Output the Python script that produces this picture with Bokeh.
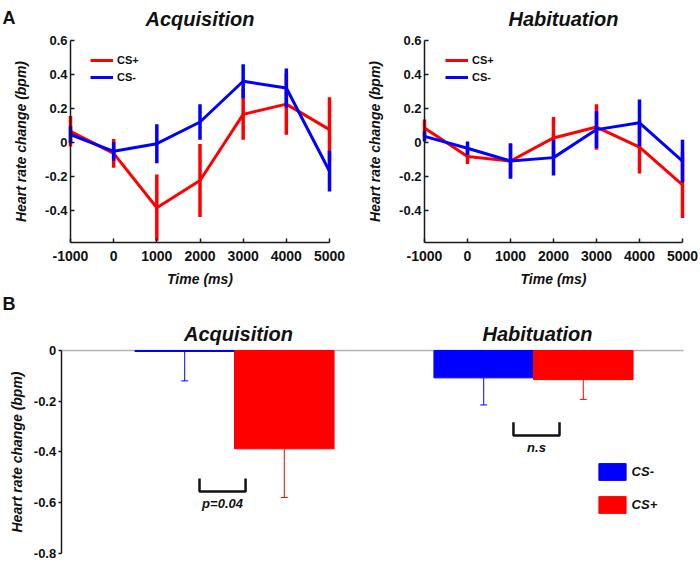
from bokeh.plotting import figure
from bokeh.layouts import column, row
from bokeh.models import (Range1d, FixedTicker, Legend, LegendItem,
                          Whisker, ColumnDataSource, TeeHead)
from bokeh.core.properties import value
from bokeh.embed import file_html
from bokeh.resources import INLINE

# ---------------- data ----------------
time_ms = [-1000, 0, 1000, 2000, 3000, 4000, 5000]
time_labels = ["-1000", "0", "1000", "2000", "3000", "4000", "5000"]

acq_cs_plus = [0.065, -0.065, -0.385, -0.225, 0.165, 0.225, 0.075]
acq_cs_plus_err = [0.09, 0.085, 0.195, 0.215, 0.15, 0.18, 0.19]
acq_cs_minus = [0.045, -0.053, -0.008, 0.12, 0.36, 0.32, -0.17]
acq_cs_minus_err = [0.05, 0.055, 0.115, 0.105, 0.1, 0.115, 0.12]

hab_cs_plus = [0.085, -0.083, -0.11, 0.026, 0.09, -0.028, -0.25]
hab_cs_plus_err = [0.05, 0.045, 0.1, 0.123, 0.134, 0.155, 0.195]
hab_cs_minus = [0.035, -0.035, -0.11, -0.09, 0.075, 0.115, -0.11]
hab_cs_minus_err = [0.03, 0.04, 0.105, 0.105, 0.109, 0.138, 0.125]

line_y_ticks = [-0.4, -0.2, 0, 0.2, 0.4, 0.6]
line_y_labels = ["-0.4", "-0.2", "0", "0.2", "0.4", "0.6"]
line_y_limits = (-0.59, 0.6)
time_limits = (-1000, 5000)

bar_y_ticks = [-0.8, -0.6, -0.4, -0.2, 0]
bar_y_labels = ["-0.8", "-0.6", "-0.4", "-0.2", "0"]
bar_y_limits = (-0.8, 0)

phases = ["Acquisition", "Habituation"]
phase_pos = [1, 2]
bar_cs_minus = [-0.004, -0.108]
bar_cs_minus_err = [0.116, 0.107]
bar_cs_plus = [-0.388, -0.115]
bar_cs_plus_err = [0.192, 0.078]

sig_labels = ["p=0.04", "n.s"]
sig_left = [0.883, 1.933]
sig_right = [1.037, 2.087]
sig_top = [-0.505, -0.283]
sig_bottom = [-0.5565, -0.335]
sig_text_y = [-0.604, -0.382]

# ---------------- style ----------------
FONT = "Liberation Sans"
RED = "#ff0000"
BLUE = "#0000ff"
AX = "#1a1a1a"
TXT = "#111111"


def axis_map(v_a, px_a, v_b, px_b):
    per = (v_b - v_a) / (px_b - px_a)
    return lambda px: v_a + (px - px_a) * per


def style_axis(ax, size):
    ax.axis_line_color = AX
    ax.axis_line_width = 1.5
    ax.major_tick_line_color = AX
    ax.major_tick_line_width = 1.5
    ax.minor_tick_line_color = None
    ax.major_label_text_font = FONT
    ax.major_label_text_font_style = "bold"
    ax.major_label_text_font_size = size
    ax.major_label_text_color = TXT
    ax.axis_label_text_font = FONT
    ax.axis_label_text_font_style = "bold italic"
    ax.axis_label_text_font_size = "14px"
    ax.axis_label_text_color = TXT


def add_text(p, x, y, text, size, style, align="center", baseline="alphabetic"):
    p.text(x=x, y=y, text=text, text_font=value(FONT), text_font_style=style,
           text_font_size=size, text_align=align, text_baseline=baseline,
           text_color=TXT)


def line_panel(name, plus, plus_err, minus, minus_err, fx, fy, title_px, letter,
               legend_x):
    p = figure(width=350, height=288, output_backend="svg", toolbar_location=None,
               x_range=Range1d(fx(0), fx(350)), y_range=Range1d(fy(288), fy(0)),
               min_border=0)
    p.outline_line_color = None
    p.grid.visible = False
    p.background_fill_color = None
    p.border_fill_color = None

    renderers = []
    for vals, errs, col in [(plus, plus_err, RED), (minus, minus_err, BLUE)]:
        src = ColumnDataSource(dict(
            x=time_ms, y=vals,
            lo=[v - e for v, e in zip(vals, errs)],
            hi=[v + e for v, e in zip(vals, errs)]))
        p.segment(x0="x", y0="lo", x1="x", y1="hi", source=src,
                  line_color=col, line_width=3.5)
        r = p.line("x", "y", source=src, line_color=col, line_width=3)
        renderers.append(r)

    legend = Legend(items=[LegendItem(label="CS+", renderers=[renderers[0]]),
                           LegendItem(label="CS-", renderers=[renderers[1]])],
                    location=(legend_x, 204), padding=0, margin=0, spacing=3,
                    glyph_width=23, glyph_height=14, label_height=14, label_width=10,
                    label_standoff=4, border_line_alpha=0, background_fill_alpha=0,
                    label_text_font=FONT, label_text_font_style="bold",
                    label_text_font_size="11px", label_text_color=TXT)
    p.add_layout(legend)

    xa, ya = p.xaxis[0], p.yaxis[0]
    style_axis(xa, "14px")
    style_axis(ya, "13px")
    xa.fixed_location = line_y_limits[0]
    xa.bounds = time_limits
    ya.fixed_location = time_limits[0]
    ya.bounds = line_y_limits
    xa.ticker = FixedTicker(ticks=time_ms)
    xa.major_label_overrides = {t: l for t, l in zip(time_ms, time_labels)}
    ya.ticker = FixedTicker(ticks=line_y_ticks)
    ya.major_label_overrides = {t: l for t, l in zip(line_y_ticks, line_y_labels)}
    for ax in (xa, ya):
        ax.major_tick_in = 4
        ax.major_tick_out = 0
    xa.major_label_standoff = 8
    ya.major_label_standoff = 3
    xa.axis_label = "Time (ms)"
    xa.axis_label_standoff = 7
    ya.axis_label = "Heart rate change (bpm)"
    ya.axis_label_standoff = 13

    add_text(p, [fx(title_px)], [fy(18)], [name], "20px", "bold italic")
    if letter:
        add_text(p, [fx(2)], [fy(17)], [letter], "18px", "bold", align="left")
    return p


fx1 = axis_map(time_limits[0], 70, time_limits[1], 329)
fx2 = axis_map(time_limits[0], 74, time_limits[1], 332)
fy12 = axis_map(line_y_limits[1], 40, line_y_limits[0], 242)

p1 = line_panel(phases[0], acq_cs_plus, acq_cs_plus_err, acq_cs_minus,
                acq_cs_minus_err, fx1, fy12, 199.5, "A", 90)
p2 = line_panel(phases[1], hab_cs_plus, hab_cs_plus_err, hab_cs_minus,
                hab_cs_minus_err, fx2, fy12, 213, None, 95)

# ---------------- bar panel ----------------
fx3 = axis_map(phase_pos[0], 234, phase_pos[1], 533)
fy3 = axis_map(bar_y_limits[1], 62, bar_y_limits[0], 264.7)
axis_x = fx3(60.7)
zero_end = fx3(683)
off = 0.1665
bw = 0.333

p3 = figure(width=700, height=273, output_backend="svg", toolbar_location=None,
            x_range=Range1d(fx3(0), fx3(700)), y_range=Range1d(fy3(273), fy3(0)),
            min_border=0, x_axis_location=None)
p3.outline_line_color = None
p3.grid.visible = False
p3.background_fill_color = None
p3.border_fill_color = None

p3.segment(x0=[axis_x], y0=[0], x1=[zero_end], y1=[0], line_color="#b4b4b4",
           line_width=1.5)

bar_renderers = []
for vals, errs, col, sign in [(bar_cs_minus, bar_cs_minus_err, BLUE, -1),
                              (bar_cs_plus, bar_cs_plus_err, RED, 1)]:
    xs = [g + sign * off for g in phase_pos]
    src = ColumnDataSource(dict(x=xs, top=[0] * len(vals), bottom=vals,
                                lower=[v - e for v, e in zip(vals, errs)],
                                upper=vals))
    r = p3.vbar(x="x", top="top", bottom="bottom", width=bw, source=src,
                fill_color=col, line_color=col, line_width=1)
    bar_renderers.append(r)
    p3.add_layout(Whisker(source=src, base="x", lower="lower", upper="upper",
                          line_color=col, line_width=1, upper_head=None,
                          lower_head=TeeHead(size=7, line_color=col, line_width=1),
                          level="glyph"))

p3.multi_line(xs=[[l, l, r, r] for l, r in zip(sig_left, sig_right)],
              ys=[[t, b, b, t] for t, b in zip(sig_top, sig_bottom)],
              line_color=TXT, line_width=2.5)
add_text(p3, [(l + r) / 2 for l, r in zip(sig_left, sig_right)], sig_text_y,
         sig_labels, "13px", "bold italic", baseline="middle")

add_text(p3, [fx3(238), fx3(537)], [fy3(45.3)] * 2, phases, "20px", "bold italic")
add_text(p3, [fx3(2)], [fy3(15)], ["B"], "18px", "bold", align="left")

legend3 = Legend(items=[LegendItem(label="CS-", renderers=[bar_renderers[0]]),
                        LegendItem(label="CS+", renderers=[bar_renderers[1]])],
                 location=(594.6, 46.5), padding=0, margin=0, spacing=12,
                 glyph_width=34, glyph_height=21, label_height=21, label_width=10,
                 label_standoff=3, border_line_alpha=0, background_fill_alpha=0,
                 label_text_font=FONT, label_text_font_style="bold italic",
                 label_text_font_size="13px", label_text_color=TXT)
p3.add_layout(legend3)

ya3 = p3.yaxis[0]
style_axis(ya3, "13px")
ya3.fixed_location = axis_x
ya3.bounds = bar_y_limits
ya3.ticker = FixedTicker(ticks=bar_y_ticks)
ya3.major_label_overrides = {t: l for t, l in zip(bar_y_ticks, bar_y_labels)}
ya3.major_tick_in = 0
ya3.major_tick_out = 3
ya3.major_label_standoff = 2
ya3.axis_label = "Heart rate change (bpm)"
ya3.axis_label_standoff = 6

layout = column(row(p1, p2), p3)
open("out.html", "w").write(file_html(layout, INLINE))
